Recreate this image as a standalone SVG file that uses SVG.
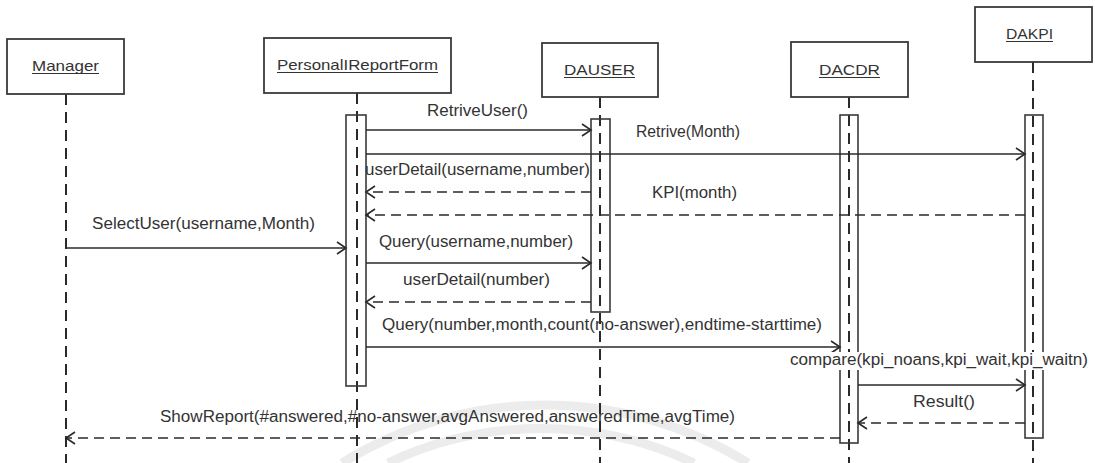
<svg xmlns="http://www.w3.org/2000/svg" width="1095" height="463" viewBox="0 0 1095 463">
  <style>
    .box { fill: #fff; stroke: #3a3a3a; stroke-width: 1.8; }
    .act { fill: none; stroke: #3a3a3a; stroke-width: 1.6; }
    .life { stroke: #2a2a2a; stroke-width: 2; stroke-dasharray: 11 7; fill: none; }
    .msg { stroke: #2a2a2a; stroke-width: 1.6; fill: none; marker-end: url(#open); }
    .ret { stroke: #2a2a2a; stroke-width: 1.6; fill: none; stroke-dasharray: 10 6; marker-end: url(#open); }
    .lbl { font-family: "Liberation Sans", Arial, sans-serif; font-size: 16px; fill: #333; }
    .name { font-family: "Liberation Sans", Arial, sans-serif; font-size: 15px; fill: #333; }
    .ul { stroke: #333; stroke-width: 1.2; }
    .mark { fill: none; stroke: #ececec; stroke-width: 9; }
  </style>
  <defs>
    <marker id="open" markerUnits="userSpaceOnUse" markerWidth="12" markerHeight="14" refX="10" refY="7" orient="auto">
      <path d="M1,1 L10,7 L1,13" fill="none" stroke="#2a2a2a" stroke-width="1.6"/>
    </marker>
  </defs>

  <rect x="0" y="0" width="1095" height="463" fill="#fff"/>

  <!-- faint background arcs -->
  <g id="backdrop">
    <path class="mark" d="M342,463 A384,384 0 0 1 748,463"/>
    <path class="mark" d="M388,463 A357,357 0 0 1 694,463"/>
  </g>

  <!-- lifelines -->
  <g id="lifelines">
    <line class="life" x1="66" y1="94" x2="66" y2="463"/>
    <line class="life" x1="357" y1="93" x2="357" y2="463"/>
    <line class="life" x1="600" y1="97" x2="600" y2="463"/>
    <line class="life" x1="849" y1="97" x2="849" y2="463"/>
    <line class="life" x1="1033" y1="62" x2="1033" y2="463"/>
  </g>

  <g id="manager">
    <rect class="box" x="7" y="39" width="117" height="55"/>
    <text class="name" x="32" y="71" textLength="67" lengthAdjust="spacingAndGlyphs">Manager</text>
    <line class="ul" x1="32" y1="73.5" x2="99" y2="73.5"/>
  </g>

  <g id="personalReportForm">
    <rect class="box" x="264" y="38" width="187" height="55"/>
    <text class="name" x="277" y="70" textLength="161" lengthAdjust="spacingAndGlyphs">PersonalIReportForm</text>
    <line class="ul" x1="277" y1="72.5" x2="438" y2="72.5"/>
    <rect class="act" x="346" y="115" width="20" height="271"/>
  </g>

  <g id="dauser">
    <rect class="box" x="542" y="43" width="116" height="54"/>
    <text class="name" x="564" y="75" textLength="71" lengthAdjust="spacingAndGlyphs">DAUSER</text>
    <line class="ul" x1="564" y1="77.5" x2="635" y2="77.5"/>
    <rect class="act" x="591" y="119" width="19" height="193"/>
  </g>

  <g id="dacdr">
    <rect class="box" x="791" y="42" width="117" height="55"/>
    <text class="name" x="819" y="75" textLength="61" lengthAdjust="spacingAndGlyphs">DACDR</text>
    <line class="ul" x1="819" y1="77.5" x2="880" y2="77.5"/>
    <rect class="act" x="840" y="115" width="18" height="328"/>
  </g>

  <g id="dakpi">
    <rect class="box" x="975" y="7" width="117" height="55"/>
    <text class="name" x="1006" y="39" textLength="47" lengthAdjust="spacingAndGlyphs">DAKPI</text>
    <line class="ul" x1="1006" y1="41.5" x2="1053" y2="41.5"/>
    <rect class="act" x="1025" y="115" width="18" height="323"/>
  </g>

  <!-- messages -->
  <g id="connectors">
    <line class="msg" x1="366" y1="130" x2="591" y2="130"/>
    <line class="msg" x1="366" y1="154" x2="1025" y2="154"/>
    <line class="ret" x1="591" y1="192" x2="366" y2="192"/>
    <line class="ret" x1="1025" y1="215" x2="366" y2="215"/>
    <line class="msg" x1="66" y1="248" x2="346" y2="248"/>
    <line class="msg" x1="366" y1="263" x2="591" y2="263"/>
    <line class="ret" x1="591" y1="302" x2="366" y2="302"/>
    <line class="msg" x1="366" y1="347" x2="840" y2="347"/>
    <line class="msg" x1="858" y1="385" x2="1025" y2="385"/>
    <line class="ret" x1="1025" y1="423" x2="858" y2="423"/>
    <line class="ret" x1="840" y1="438" x2="66" y2="438"/>
  </g>

  <!-- message labels -->
  <g id="labels">
    <text class="lbl" x="427" y="116" textLength="101" lengthAdjust="spacingAndGlyphs">RetriveUser()</text>
    <text class="lbl" x="636" y="137" textLength="104" lengthAdjust="spacingAndGlyphs">Retrive(Month)</text>
    <text class="lbl" x="365" y="175" textLength="225" lengthAdjust="spacingAndGlyphs">userDetail(username,number)</text>
    <text class="lbl" x="652" y="198" textLength="85" lengthAdjust="spacingAndGlyphs">KPI(month)</text>
    <text class="lbl" x="92" y="229" textLength="223" lengthAdjust="spacingAndGlyphs">SelectUser(username,Month)</text>
    <text class="lbl" x="379" y="247" textLength="194" lengthAdjust="spacingAndGlyphs">Query(username,number)</text>
    <text class="lbl" x="403" y="285" textLength="147" lengthAdjust="spacingAndGlyphs">userDetail(number)</text>
    <text class="lbl" x="382" y="330" textLength="440" lengthAdjust="spacingAndGlyphs">Query(number,month,count(no-answer),endtime-starttime)</text>
    <rect x="789" y="352" width="301" height="18" fill="#fff"/>
    <text class="lbl" x="790" y="365" textLength="298" lengthAdjust="spacingAndGlyphs">compare(kpi_noans,kpi_wait,kpi_waitn)</text>
    <text class="lbl" x="913" y="407" textLength="62" lengthAdjust="spacingAndGlyphs">Result()</text>
    <text class="lbl" x="160" y="422" textLength="575" lengthAdjust="spacingAndGlyphs">ShowReport(#answered,#no-answer,avgAnswered,answeredTime,avgTime)</text>
  </g>
</svg>
